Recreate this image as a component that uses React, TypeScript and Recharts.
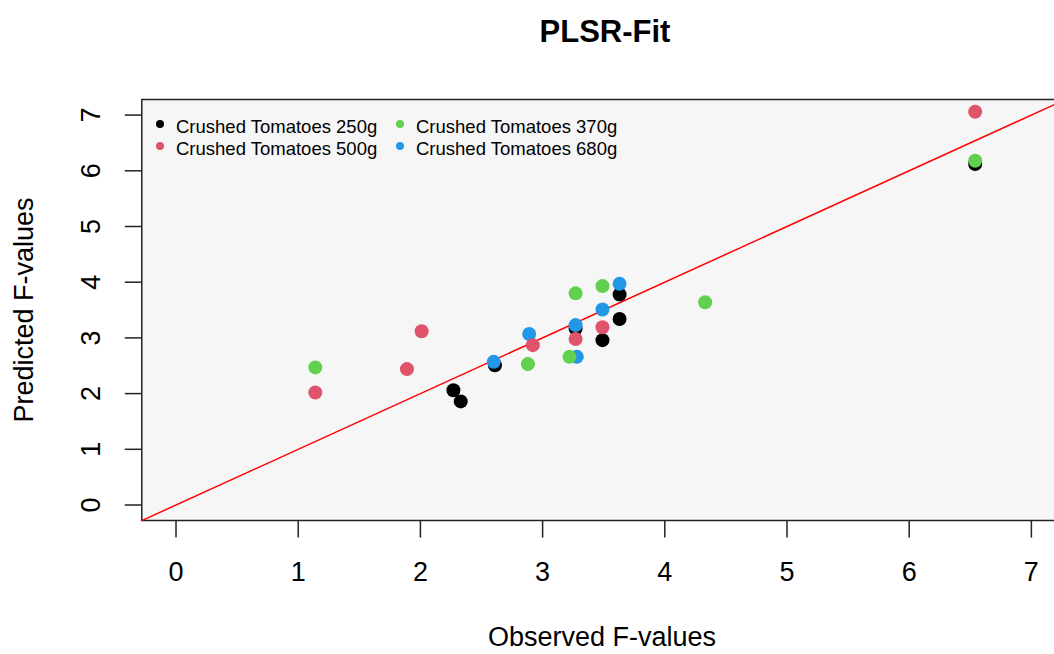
import {
  ScatterChart,
  Scatter,
  XAxis,
  YAxis,
  ReferenceArea,
  ReferenceLine
} from 'recharts';

// observed / predicted F-values per product
const obs250 = [2.27, 2.33, 2.61, 3.27, 3.49, 3.63, 3.63, 6.54];
const pred250 = [2.06, 1.86, 2.51, 3.17, 2.96, 3.34, 3.78, 6.12];
const obs680 = [2.6, 2.89, 3.28, 3.27, 3.49, 3.63];
const pred680 = [2.57, 3.07, 2.66, 3.23, 3.51, 3.97];
const obs500 = [1.14, 1.89, 2.01, 2.92, 3.27, 3.49, 6.54];
const pred500 = [2.02, 2.44, 3.12, 2.87, 2.98, 3.19, 7.06];
const obs370 = [1.14, 2.88, 3.22, 3.27, 3.49, 4.33, 6.54];
const pred370 = [2.47, 2.53, 2.66, 3.8, 3.93, 3.64, 6.18];

const ticks = [0, 1, 2, 3, 4, 5, 6, 7];
const lims: [number, number] = [-0.28, 7.28];

const FONT = '"Liberation Sans", Arial, sans-serif';

const toPoints = (xs: number[], ys: number[]) => xs.map((x, i) => ({ x, y: ys[i] }));

const groups = [
  { name: 'Crushed Tomatoes 250g', color: '#000000', data: toPoints(obs250, pred250) },
  { name: 'Crushed Tomatoes 680g', color: '#2297E6', data: toPoints(obs680, pred680) },
  { name: 'Crushed Tomatoes 500g', color: '#DF536B', data: toPoints(obs500, pred500) },
  { name: 'Crushed Tomatoes 370g', color: '#61D04F', data: toPoints(obs370, pred370) }
];

// legend order as in the plot (column-wise R legend)
const legendItems = [
  { name: 'Crushed Tomatoes 250g', color: '#000000', x: 160, y: 124 },
  { name: 'Crushed Tomatoes 500g', color: '#DF536B', x: 160, y: 146 },
  { name: 'Crushed Tomatoes 370g', color: '#61D04F', x: 400, y: 124 },
  { name: 'Crushed Tomatoes 680g', color: '#2297E6', x: 400, y: 146 }
];

const XTick = (props: any) => (
  <text x={props.payload.coordinate} y={581} textAnchor="middle" fontSize={27} fontFamily={FONT} fill="#000">
    {props.payload.value}
  </text>
);

const YTick = (props: any) => {
  const y = props.payload.coordinate;
  return (
    <text x={100} y={y} textAnchor="middle" fontSize={27} fontFamily={FONT} fill="#000" transform={`rotate(-90, 100, ${y})`}>
      {props.payload.value}
    </text>
  );
};

const dot = (color: string) => (p: any) => <circle cx={p.cx} cy={p.cy} r={7} fill={color} />;

export default function App() {
  return (
    <div style={{ position: 'fixed', left: 0, top: 0, width: 1054, height: 654, overflow: 'hidden', background: '#fff' }}>
      <ScatterChart width={1100} height={654} margin={{ top: 99.5, right: 34.4, bottom: 0, left: 0 }}>
        <ReferenceArea x1={lims[0]} x2={lims[1]} y1={lims[0]} y2={lims[1]} fill="#f6f6f6" fillOpacity={1} stroke="#222" strokeWidth={1.5} />
        <XAxis
          type="number"
          dataKey="x"
          domain={lims}
          ticks={ticks}
          allowDataOverflow
          height={133.4}
          axisLine={false}
          tickSize={17}
          tickLine={{ stroke: '#222', strokeWidth: 1.5 }}
          tick={<XTick />}
        />
        <YAxis
          type="number"
          dataKey="y"
          domain={lims}
          ticks={ticks}
          allowDataOverflow
          width={141.8}
          axisLine={false}
          tickSize={17}
          tickLine={{ stroke: '#222', strokeWidth: 1.5 }}
          tick={<YTick />}
        />
        {groups.map((g) => (
          <Scatter key={g.name} name={g.name} data={g.data} fill={g.color} shape={dot(g.color)} isAnimationActive={false} />
        ))}
        <ReferenceLine
          segment={[{ x: lims[0], y: lims[0] }, { x: lims[1], y: lims[1] }]}
          stroke="#ff0000"
          strokeWidth={1.5}
        />
      </ScatterChart>
      <svg width={1054} height={654} style={{ position: 'absolute', left: 0, top: 0, pointerEvents: 'none' }}>
        <text x={605} y={42} textAnchor="middle" fontSize={31} fontWeight="bold" fontFamily={FONT}>PLSR-Fit</text>
        <text x={602} y={646} textAnchor="middle" fontSize={27} fontFamily={FONT}>Observed F-values</text>
        <text x={33} y={310} textAnchor="middle" fontSize={27} fontFamily={FONT} transform="rotate(-90, 33, 310)">Predicted F-values</text>
        {legendItems.map((it) => (
          <g key={it.name}>
            <circle cx={it.x} cy={it.y} r={4} fill={it.color} />
            <text x={it.x + 16} y={it.y + 8.5} fontSize={18.5} fontFamily={FONT}>{it.name}</text>
          </g>
        ))}
      </svg>
    </div>
  );
}
